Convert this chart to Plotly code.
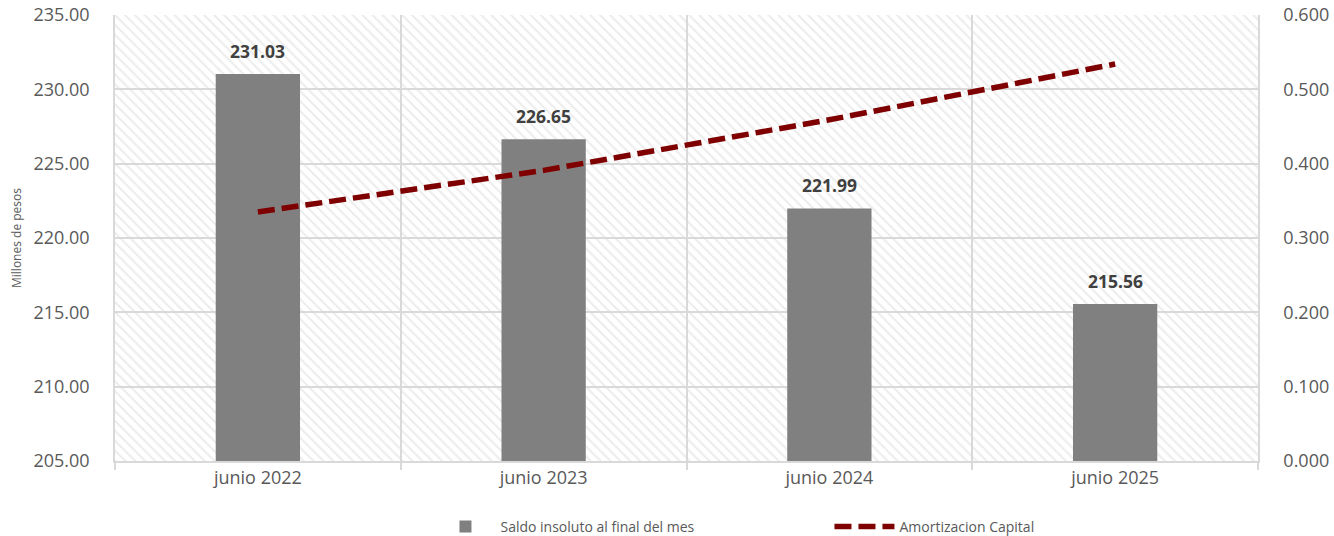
import plotly.graph_objects as go

categories = ["junio 2022", "junio 2023", "junio 2024", "junio 2025"]
saldo = [231.03, 226.65, 221.99, 215.56]
amortizacion = [0.335, 0.391, 0.459, 0.534]
left_ticks = [205, 210, 215, 220, 225, 230, 235]
right_ticks = [0.0, 0.1, 0.2, 0.3, 0.4, 0.5, 0.6]

FONT = "Open Sans"
TICK = "#595959"
GRID = "#d9d9d9"

fig = go.Figure()

# hatched plot background
fig.add_trace(go.Bar(
    x=categories, y=[left_ticks[-1] - left_ticks[0]] * len(categories),
    base=left_ticks[0], width=1, showlegend=False, hoverinfo="skip",
    marker=dict(color="rgba(0,0,0,0)", line=dict(width=0),
                pattern=dict(shape="\\", fgcolor="#d9d9d9", bgcolor="rgba(0,0,0,0)",
                             size=7, solidity=0.28)),
))

fig.add_trace(go.Bar(
    x=categories, y=saldo, name="Saldo insoluto al final del mes",
    width=0.295, marker=dict(color="#808080", line=dict(width=0)),
))

fig.add_trace(go.Scatter(
    x=categories, y=amortizacion, name="Amortizacion Capital", yaxis="y2",
    mode="lines", line=dict(color="#7f0000", width=5.5, dash="17px,7px"),
))

for c, v in zip(categories, saldo):
    fig.add_annotation(x=c, y=v, text=f"<b>{v:.2f}</b>", showarrow=False,
                       yshift=23, font=dict(family=FONT, size=17.5, color="#404040"))

fig.update_layout(
    width=1334, height=536,
    margin=dict(l=115, r=76, t=15, b=75, autoexpand=False),
    paper_bgcolor="white", plot_bgcolor="white",
    barmode="overlay",
    font=dict(family=FONT, color=TICK),
    xaxis=dict(tickson="boundaries", showgrid=True, gridcolor=GRID, gridwidth=1.5,
               showline=True, linecolor=GRID, linewidth=1.5, mirror=False,
               ticks="outside", ticklen=7, tickcolor=GRID, tickwidth=1.5,
               tickfont=dict(size=18, color=TICK), range=[-0.5, 3.5], automargin=False),
    yaxis=dict(range=[left_ticks[0], left_ticks[-1]], tickvals=left_ticks, tickformat=".2f",
               showgrid=True, gridcolor=GRID, gridwidth=1.5, zeroline=False,
               showline=True, linecolor=GRID, linewidth=1.5, automargin=False,
               tickfont=dict(size=18, color=TICK), ticks="", ticklabelstandoff=20,
               title=dict(text="Millones de pesos", font=dict(size=12, color=TICK), standoff=9)),
    yaxis2=dict(overlaying="y", side="right", range=[right_ticks[0], right_ticks[-1]],
                tickvals=right_ticks, tickformat=".3f", showgrid=False, zeroline=False,
                showline=True, linecolor=GRID, linewidth=1.5, automargin=False,
                tickfont=dict(size=18, color=TICK), ticklabelstandoff=20),
    legend=dict(orientation="h", x=0.276, xanchor="left", y=-0.148, yanchor="middle",
                font=dict(size=14, color=TICK), entrywidth=324, itemwidth=60),
    showlegend=True,
)

fig.write_html("out.html", config={"displayModeBar": False},
               post_script="document.body.style.margin='0';")
